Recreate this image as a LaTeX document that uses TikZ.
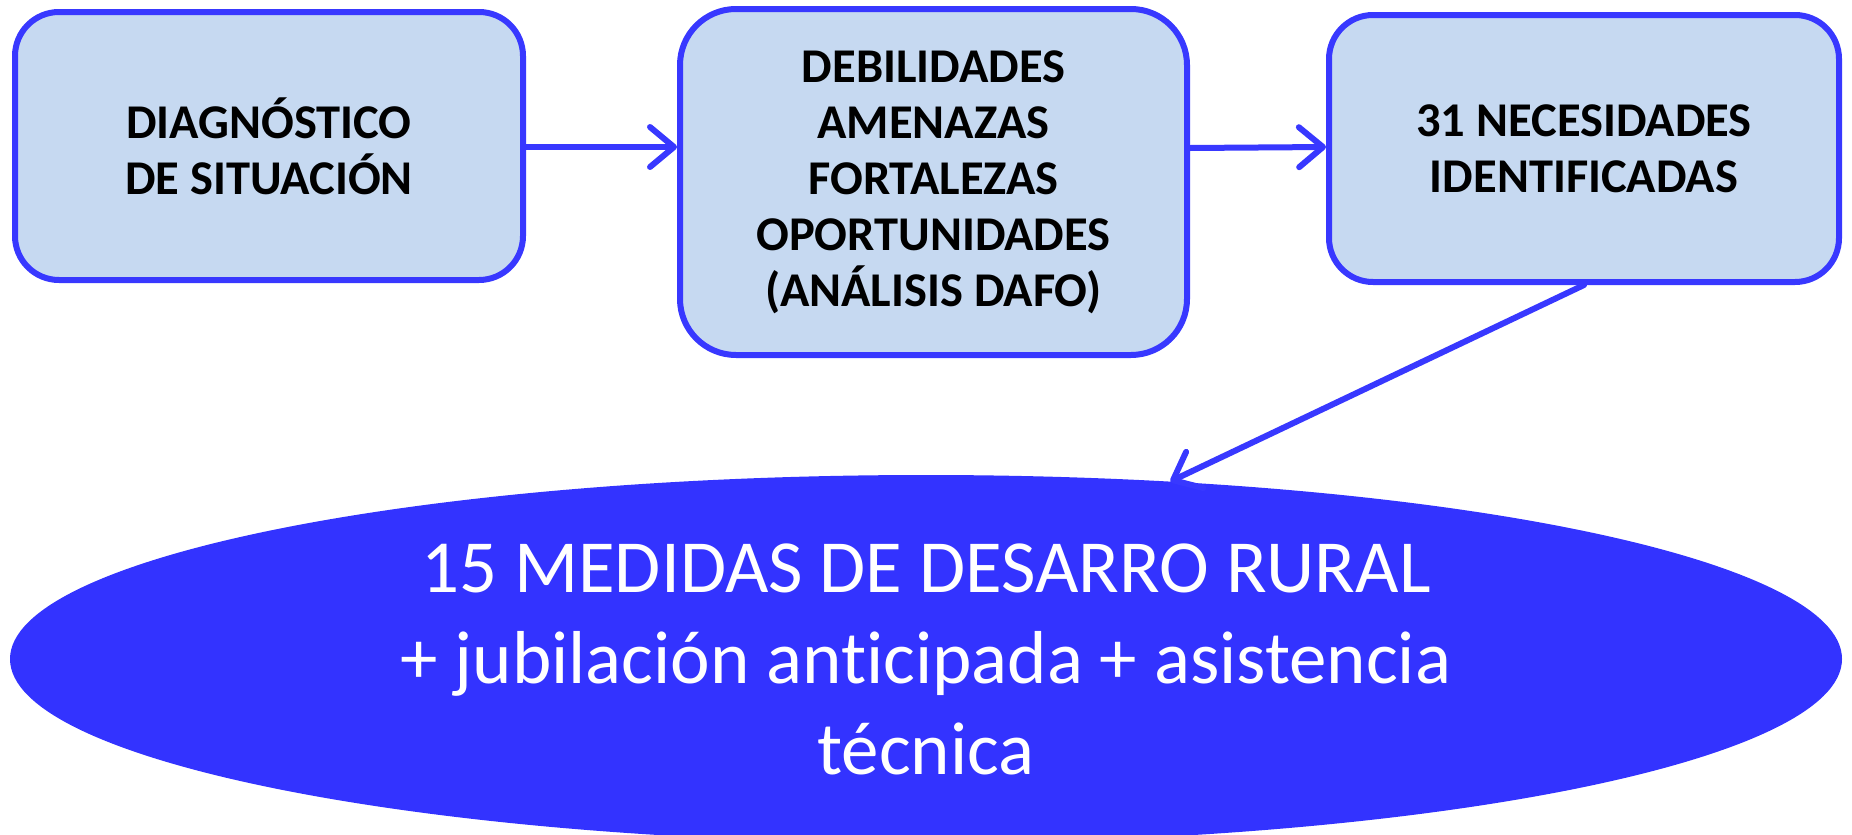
\documentclass[tikz,border=0pt]{standalone}
\usepackage{fontspec}
\setmainfont[Ligatures=NoCommon]{Carlito}
\usetikzlibrary{arrows.meta,shapes.geometric}
\definecolor{boxfill}{HTML}{C6D9F1}
\definecolor{boxline}{HTML}{3838FF}
\definecolor{ellfill}{HTML}{3333FF}
\begin{document}
\begin{tikzpicture}[x=1pt,y=-1pt,
  stagebox/.style={draw=boxline,line width=6pt,fill=boxfill,rounded corners=44pt,
    align=center,font=\fontsize{48.5}{56}\selectfont\bfseries,inner sep=0pt},
  flow/.style={draw=boxline,line width=6pt,line cap=round,
    -{Straight Barb[length=24pt,width=40pt,line cap=round,line join=round]}}]
\useasboundingbox (0,0) rectangle (1852,835);
\node[stagebox,minimum width=508pt,minimum height=268pt] (b1) at (269,146) {DIAGNÓSTICO\\DE SITUACIÓN};
\node[stagebox,minimum width=507pt,minimum height=346pt,rounded corners=56pt] (b2) at (933.5,182) {DEBILIDADES\\AMENAZAS\\FORTALEZAS\\OPORTUNIDADES\\(ANÁLISIS DAFO)};
\node[stagebox,minimum width=510pt,minimum height=267pt] (b3) at (1584,148.5) {31 NECESIDADES\\IDENTIFICADAS};
\node[ellipse,fill=ellfill,minimum width=1832pt,minimum height=368pt,inner sep=0pt,
  text=white,align=center,font=\fontsize{75}{91}\selectfont] (el) at (926,659)
  {15 MEDIDAS DE DESARRO RURAL\\+ jubilación anticipada + asistencia\\técnica};
\draw[flow] (b1.east |- 0,147) -- (b2.west |- 0,147);
\draw[flow] (b2.east |- 0,148) -- (b3.west |- 0,147);
\draw[flow] (b3.south) -- (el.36.9);
\end{tikzpicture}
\end{document}
